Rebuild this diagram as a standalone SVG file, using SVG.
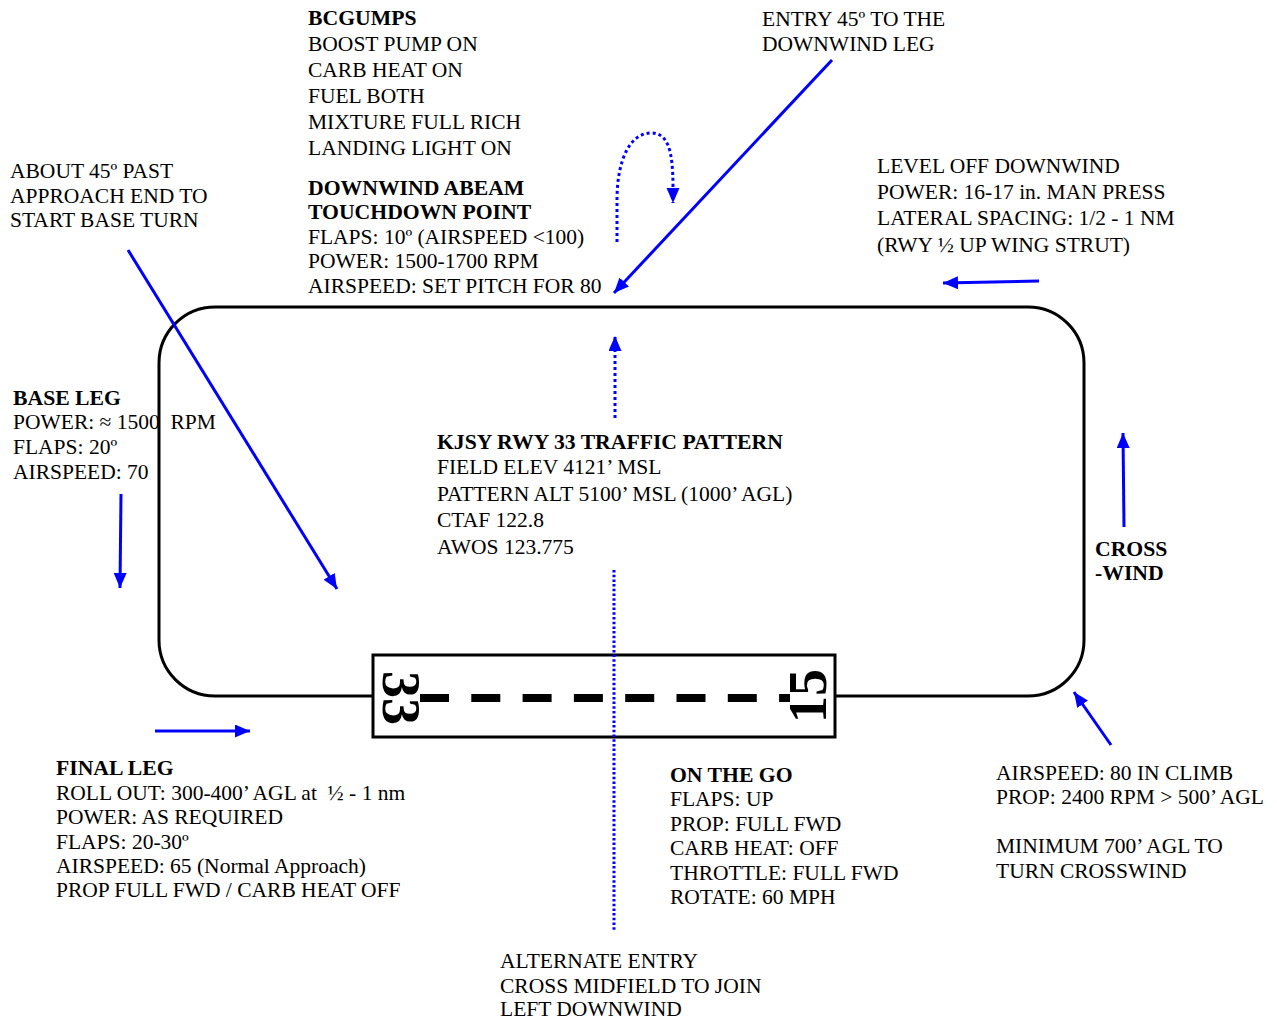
<svg xmlns="http://www.w3.org/2000/svg" width="1277" height="1016" viewBox="0 0 1277 1016">
<defs>
<style>
text{font-family:"Liberation Serif","Times New Roman",serif;font-size:21.5px;fill:#000;white-space:pre}
.b{font-weight:bold;font-size:21.7px}
.pat{fill:none;stroke:#000;stroke-width:3}
.arr{fill:none;stroke:#0000ff;stroke-width:3}
.dot{fill:none;stroke:#0000ff;stroke-width:3;stroke-dasharray:3 3}
.dot2{fill:none;stroke:#0000ff;stroke-width:3;stroke-dasharray:2.5 2.2}
</style>
<marker id="ah" markerUnits="userSpaceOnUse" markerWidth="16" markerHeight="14" refX="15" refY="6.5" orient="auto">
<path d="M0,0 L15,6.5 L0,13 z" fill="#0000ff"/>
</marker>
</defs>
<rect width="1277" height="1016" fill="#fff"/>

<g id="pattern">
<rect class="pat" x="159" y="307" width="925" height="389" rx="56" ry="56"/>
</g>

<g id="runway">
<rect x="373" y="655" width="462" height="82" fill="#fff" stroke="#000" stroke-width="3"/>
<line x1="420" y1="698" x2="790" y2="698" stroke="#000" stroke-width="8" stroke-dasharray="29 22.3"/>
<text class="b" transform="translate(383,671) rotate(90)" style="font-size:54px">33</text>
<text class="b" transform="translate(826,723) rotate(-90)" style="font-size:54px">15</text>
</g>

<g id="connectors">
<line class="arr" x1="832" y1="60" x2="614" y2="293" marker-end="url(#ah)"/>
<path class="dot" d="M617,242 L617,200 C617,160 630,133 651,133 C668,133 673,150 673,188 L673,203" marker-end="url(#ah)"/>
<line class="dot" x1="615" y1="418" x2="615" y2="336" marker-end="url(#ah)"/>
<line class="dot2" x1="614" y1="570" x2="614" y2="932"/>
<line class="arr" x1="1039" y1="281" x2="943" y2="283" marker-end="url(#ah)"/>
<line class="arr" x1="128" y1="250" x2="337" y2="589" marker-end="url(#ah)"/>
<line class="arr" x1="121" y1="494" x2="120" y2="588" marker-end="url(#ah)"/>
<line class="arr" x1="155" y1="731" x2="250" y2="731" marker-end="url(#ah)"/>
<line class="arr" x1="1124" y1="527" x2="1123" y2="433" marker-end="url(#ah)"/>
<line class="arr" x1="1111" y1="745" x2="1074" y2="692" marker-end="url(#ah)"/>
</g>

<g id="bcgumps">
<text class="b" x="308" y="25">BCGUMPS</text>
<text x="308" y="51">BOOST PUMP ON</text>
<text x="308" y="77">CARB HEAT ON</text>
<text x="308" y="103">FUEL BOTH</text>
<text x="308" y="129">MIXTURE FULL RICH</text>
<text x="308" y="155">LANDING LIGHT ON</text>
</g>

<g id="downwind-abeam">
<text class="b" x="308" y="195">DOWNWIND ABEAM</text>
<text class="b" x="308" y="219">TOUCHDOWN POINT</text>
<text x="308" y="244">FLAPS: 10º (AIRSPEED &lt;100)</text>
<text x="308" y="268">POWER: 1500-1700 RPM</text>
<text x="308" y="293">AIRSPEED: SET PITCH FOR 80</text>
</g>

<g id="entry">
<text x="762" y="26">ENTRY 45º TO THE</text>
<text x="762" y="51">DOWNWIND LEG</text>
</g>

<g id="base-turn">
<text x="10" y="178">ABOUT 45º PAST</text>
<text x="10" y="203">APPROACH END TO</text>
<text x="10" y="227">START BASE TURN</text>
</g>

<g id="level-off">
<text x="877" y="173">LEVEL OFF DOWNWIND</text>
<text x="877" y="199">POWER: 16-17 in. MAN PRESS</text>
<text x="877" y="225">LATERAL SPACING: 1/2 - 1 NM</text>
<text x="877" y="252">(RWY ½ UP WING STRUT)</text>
</g>

<g id="base-leg">
<text class="b" x="13" y="405">BASE LEG</text>
<text x="13" y="429">POWER: ≈ 1500  RPM</text>
<text x="13" y="454">FLAPS: 20º</text>
<text x="13" y="479">AIRSPEED: 70</text>
</g>

<g id="title">
<text class="b" x="437" y="449">KJSY RWY 33 TRAFFIC PATTERN</text>
<text x="437" y="474">FIELD ELEV 4121’ MSL</text>
<text x="437" y="501">PATTERN ALT 5100’ MSL (1000’ AGL)</text>
<text x="437" y="527">CTAF 122.8</text>
<text x="437" y="554">AWOS 123.775</text>
</g>

<g id="crosswind">
<text class="b" x="1095" y="556">CROSS</text>
<text class="b" x="1095" y="580">-WIND</text>
</g>

<g id="final-leg">
<text class="b" x="56" y="775">FINAL LEG</text>
<text x="56" y="800">ROLL OUT: 300-400’ AGL at  ½ - 1 nm</text>
<text x="56" y="824">POWER: AS REQUIRED</text>
<text x="56" y="849">FLAPS: 20-30º</text>
<text x="56" y="873">AIRSPEED: 65 (Normal Approach)</text>
<text x="56" y="897">PROP FULL FWD / CARB HEAT OFF</text>
</g>

<g id="on-the-go">
<text class="b" x="670" y="782">ON THE GO</text>
<text x="670" y="806">FLAPS: UP</text>
<text x="670" y="831">PROP: FULL FWD</text>
<text x="670" y="855">CARB HEAT: OFF</text>
<text x="670" y="880">THROTTLE: FULL FWD</text>
<text x="670" y="904">ROTATE: 60 MPH</text>
</g>

<g id="climb">
<text x="996" y="780">AIRSPEED: 80 IN CLIMB</text>
<text x="996" y="804">PROP: 2400 RPM &gt; 500’ AGL</text>
<text x="996" y="853">MINIMUM 700’ AGL TO</text>
<text x="996" y="878">TURN CROSSWIND</text>
</g>

<g id="alternate-entry">
<text x="500" y="968">ALTERNATE ENTRY</text>
<text x="500" y="993">CROSS MIDFIELD TO JOIN</text>
<text x="500" y="1016">LEFT DOWNWIND</text>
</g>
</svg>
